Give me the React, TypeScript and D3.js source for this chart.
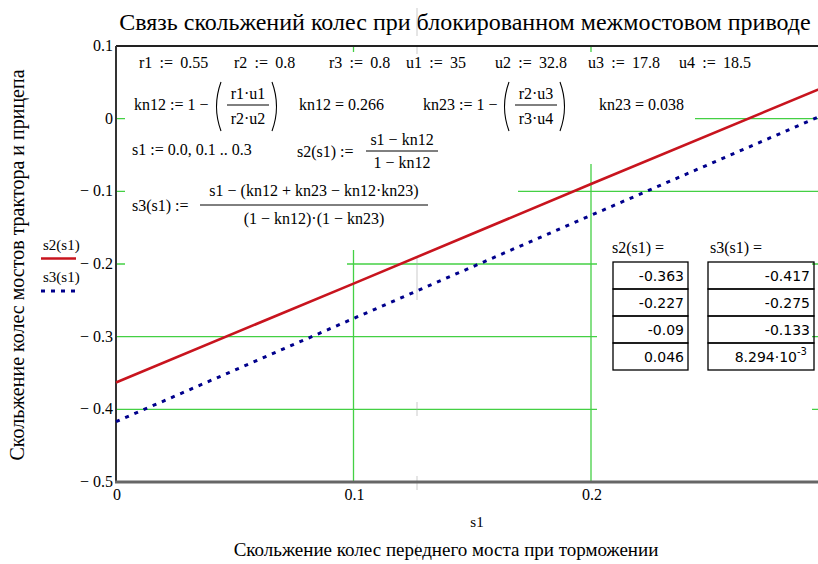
import React from "react";
import * as d3 from "d3";

// ---- data ----
const s1Values = [0, 0.1, 0.2, 0.3];
const s2Values = [-0.363, -0.227, -0.09, 0.046];
const s3Values = [-0.417, -0.275, -0.133, 0.008294];
const s2Labels = ["-0.363", "-0.227", "-0.09", "0.046"];
const s3Labels = ["-0.417", "-0.275", "-0.133", "8.294·10"];
const xTicks = [0, 0.1, 0.2];
const yTicks = [0.1, 0, -0.1, -0.2, -0.3, -0.4, -0.5];
const xGrid = [0.1, 0.2];
const yGrid = [0, -0.1, -0.2, -0.3, -0.4];
const row1 = ["r1 := 0.55", "r2 := 0.8", "r3 := 0.8", "u1 := 35", "u2 := 32.8", "u3 := 17.8", "u4 := 18.5"];
const row1X = [139, 234, 329, 406, 495, 588, 679];

const W = 818, H = 564;
const SERIF = "'Liberation Serif', 'Times New Roman', serif";
const SANS = "'DejaVu Sans', Verdana, sans-serif";
const GREEN = "#44d044";

const x = d3.scaleLinear().domain([0, 0.3]).range([116, 828.5]);
const y = d3.scaleLinear().domain([-0.5, 0.1]).range([482, 46]);

const fmtY = (v: number) => (v === 0 ? "0" : v < 0 ? "\u2212 " + d3.format(".1f")(-v) : d3.format(".1f")(v));
const fmtX = (v: number) => (v === 0 ? "0" : d3.format(".1f")(v));

function Paren({ x0, top, bottom, left }: { x0: number; top: number; bottom: number; left: boolean }) {
  const mid = (top + bottom) / 2;
  const d = left
    ? `M${x0 + 6},${top} Q${x0 - 3},${mid} ${x0 + 6},${bottom}`
    : `M${x0},${top} Q${x0 + 9},${mid} ${x0},${bottom}`;
  return <path d={d} fill="none" stroke="#000" strokeWidth={1.1} />;
}

export default function App() {
  const line = d3
    .line<number>()
    .x((_, i) => x(s1Values[i]))
    .y((d) => y(d));

  const rowTop = [262, 289, 316, 343];
  const rowH = 27;

  return (
    <svg width={W} height={H} style={{ position: "absolute", left: 0, top: 0, background: "#fff" }} fontFamily={SERIF}>
      <rect x={0} y={0} width={W} height={H} fill="#fff" />
      {/* title */}
      <text x={465} y={30} textAnchor="middle" fontSize={24}>
        Связь скольжений колес при блокированном межмостовом приводе
      </text>

      {/* grid */}
      {yGrid.map((v) => (
        <line key={"gy" + v} x1={x(0)} x2={W} y1={y(v)} y2={y(v)} stroke={GREEN} strokeWidth={1.3} />
      ))}
      {xGrid.map((v) => (
        <line key={"gx" + v} x1={x(v)} x2={x(v)} y1={y(0.1)} y2={y(-0.5)} stroke={GREEN} strokeWidth={1.3} />
      ))}

      {/* white backgrounds of math regions */}
      <rect x={125} y={52} width={570} height={88} fill="#fff" />
      <rect x={125} y={140} width={475} height={24} fill="#fff" />
      <rect x={125} y={164} width={393} height={86} fill="#fff" />
      <rect x={125} y={250} width={222} height={20} fill="#fff" />
      <rect x={597} y={236} width={215} height={182} fill="#fff" />

      {/* faint gray artifact line */}
      <g stroke="#aaa" strokeWidth={1} opacity={0.6}>
        <line x1={417} x2={417} y1={8} y2={36} />
        <line x1={417} x2={417} y1={47} y2={54} />
        <line x1={417} x2={417} y1={256} y2={300} />
        <line x1={417} x2={417} y1={402} y2={416} />
        <line x1={417} x2={417} y1={476} y2={490} />
        <line x1={417} x2={417} y1={545} y2={560} />
      </g>

      {/* axes frame */}
      <line x1={x(0)} x2={W} y1={y(0.1)} y2={y(0.1)} stroke="#222" strokeWidth={2} />
      <line x1={x(0)} x2={x(0)} y1={y(0.1)} y2={y(-0.5)} stroke="#333" strokeWidth={2} />
      <line x1={x(0) - 1} x2={W} y1={y(-0.5)} y2={y(-0.5)} stroke="#666" strokeWidth={3} />

      {/* y ticks */}
      {yTicks.map((v) => (
        <text key={"yt" + v} x={113} y={y(v) + 5} textAnchor="end" fontSize={16}>
          {fmtY(v)}
        </text>
      ))}
      {/* x ticks */}
      {xTicks.map((v) => (
        <text key={"xt" + v} x={x(v) + 1} y={500} textAnchor="middle" fontSize={16}>
          {fmtX(v)}
        </text>
      ))}
      <text x={477} y={527} textAnchor="middle" fontSize={15}>s1</text>
      <text x={446} y={556} textAnchor="middle" fontSize={19}>
        Скольжение колес переднего моста при торможении
      </text>
      <text transform="translate(24,265) rotate(-90)" textAnchor="middle" fontSize={20}>
        Скольжение колес мостов трактора и прицепа
      </text>

      {/* legend */}
      <text x={43} y={250} fontSize={15}>s2(s1)</text>
      <line x1={41} x2={76} y1={258.5} y2={258.5} stroke="#c8141e" strokeWidth={2.5} />
      <text x={43} y={282} fontSize={15}>s3(s1)</text>
      <line x1={41} x2={76} y1={291} y2={291} stroke="#00008c" strokeWidth={3} strokeDasharray="4 6" />

      {/* math row 1 */}
      {row1.map((t, i) => (
        <text key={t} x={row1X[i]} y={68} fontSize={16}>
          {t.replace(":=", "\u2009:=\u2009")}
        </text>
      ))}

      {/* row 2: kn12 */}
      <text x={134} y={110} fontSize={16}>kn12 := 1 −</text>
      <Paren x0={215} top={82} bottom={131} left />
      <text x={248} y={99} fontSize={16} textAnchor="middle">r1·u1</text>
      <line x1={227} x2={269} y1={105} y2={105} stroke="#000" strokeWidth={1} />
      <text x={248} y={124} fontSize={16} textAnchor="middle">r2·u2</text>
      <Paren x0={272} top={82} bottom={131} left={false} />
      <text x={299} y={110} fontSize={16}>kn12 = 0.266</text>

      {/* row 2: kn23 */}
      <text x={423} y={110} fontSize={16}>kn23 := 1 −</text>
      <Paren x0={503} top={82} bottom={131} left />
      <text x={536} y={99} fontSize={16} textAnchor="middle">r2·u3</text>
      <line x1={515} x2={557} y1={105} y2={105} stroke="#000" strokeWidth={1} />
      <text x={536} y={124} fontSize={16} textAnchor="middle">r3·u4</text>
      <Paren x0={560} top={82} bottom={131} left={false} />
      <text x={599} y={110} fontSize={16}>kn23 = 0.038</text>

      {/* row 3 */}
      <text x={132} y={155} fontSize={16}>s1 := 0.0, 0.1 .. 0.3</text>
      <text x={297} y={157} fontSize={16}>s2(s1) :=</text>
      <text x={402} y={145} fontSize={16} textAnchor="middle">s1 − kn12</text>
      <line x1={366} x2={438} y1={151} y2={151} stroke="#000" strokeWidth={1} />
      <text x={402} y={168} fontSize={16} textAnchor="middle">1 − kn12</text>

      {/* row 4 */}
      <text x={132} y={211} fontSize={16}>s3(s1) :=</text>
      <text x={314} y={196} fontSize={16} textAnchor="middle">s1 − (kn12 + kn23 − kn12·kn23)</text>
      <line x1={200} x2={428} y1={205} y2={205} stroke="#000" strokeWidth={1} />
      <text x={314} y={224} fontSize={16} textAnchor="middle">(1 − kn12)·(1 − kn23)</text>

      {/* tables */}
      <text x={612} y={253} fontSize={16}>s2(s1) =</text>
      <text x={710} y={253} fontSize={16}>s3(s1) =</text>
      {rowTop.map((t, i) => (
        <g key={"row" + i}>
          <rect x={613} y={t} width={75} height={rowH} fill="none" stroke="#000" strokeWidth={1.3} />
          <rect x={708} y={t} width={106} height={rowH} fill="none" stroke="#000" strokeWidth={1.3} />
          <text x={684} y={t + 19} textAnchor="end" fontSize={14} fontFamily={SANS}>
            {s2Labels[i]}
          </text>
          <text x={i === 3 ? 797 : 810} y={t + 19} textAnchor="end" fontSize={14} fontFamily={SANS}>
            {s3Labels[i]}
          </text>
          {i === 3 && (
            <text x={797} y={t + 12} fontSize={10} fontFamily={SANS}>
              -3
            </text>
          )}
        </g>
      ))}

      {/* data lines */}
      <path d={line(s2Values) || ""} fill="none" stroke="#c8141e" strokeWidth={2.6} />
      <path d={line(s3Values) || ""} fill="none" stroke="#00008c" strokeWidth={3} strokeDasharray="4 6" />
    </svg>
  );
}
